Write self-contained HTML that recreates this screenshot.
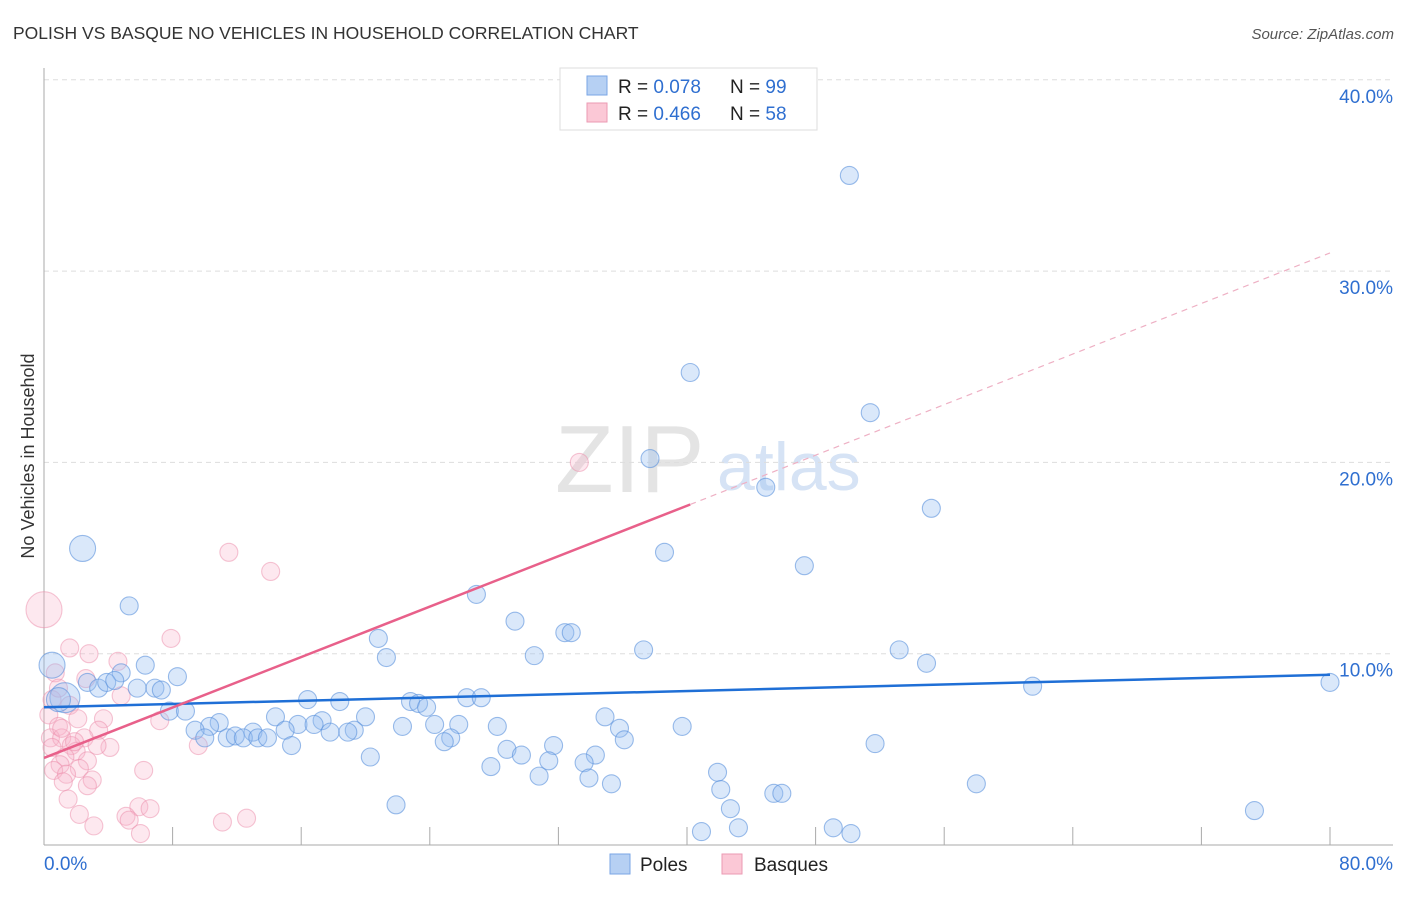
<!DOCTYPE html>
<html><head><meta charset="utf-8"><style>
body{margin:0;background:#fff;width:1406px;height:892px;overflow:hidden;font-family:"Liberation Sans",sans-serif}
svg text{font-family:"Liberation Sans",sans-serif}
</style></head><body>
<svg id="chart" width="1406" height="892">
<text x="13" y="39" font-size="17.5" fill="#333">POLISH VS BASQUE NO VEHICLES IN HOUSEHOLD CORRELATION CHART</text>
<text x="1394" y="39" font-size="15" fill="#555" font-style="italic" text-anchor="end">Source: ZipAtlas.com</text>
<text transform="translate(34,456) rotate(-90)" font-size="18" fill="#333" text-anchor="middle">No Vehicles in Household</text>
<text x="555" y="492" font-size="96" fill="#e4e4e4" font-family="Liberation Serif">ZIP</text>
<text x="717" y="490" font-size="68" fill="#d6e3f5">atlas</text>
<g id="grid"></g><g id="axes"></g><g id="pts"></g><g id="lines"></g>
<g>
<rect x="560" y="68" width="257" height="62" fill="#fff" stroke="#ddd"/>
<rect x="587" y="76" width="20" height="19" fill="#b6d0f3" stroke="#7aa6e6"/>
<rect x="587" y="103" width="20" height="19" fill="#fbc8d6" stroke="#eb9ab3"/>
<text x="618" y="93" font-size="19" fill="#222">R = <tspan fill="#2f6fd0">0.078</tspan></text>
<text x="730" y="93" font-size="19" fill="#222">N = <tspan fill="#2f6fd0">99</tspan></text>
<text x="618" y="120" font-size="19" fill="#222">R = <tspan fill="#2f6fd0">0.466</tspan></text>
<text x="730" y="120" font-size="19" fill="#222">N = <tspan fill="#2f6fd0">58</tspan></text>
</g>
<rect x="610" y="854" width="20" height="20" fill="#b6d0f3" stroke="#7aa6e6"/>
<text x="640" y="871" font-size="19" fill="#222">Poles</text>
<rect x="722" y="854" width="20" height="20" fill="#fbc8d6" stroke="#eb9ab3"/>
<text x="754" y="871" font-size="19" fill="#222">Basques</text>
</svg>
<script>
const yTicks=[10,20,30,40];
const yTickLabels=["10.0%","20.0%","30.0%","40.0%"];
const xTickLabels=["0.0%","80.0%"];
const polesX=[50.1,40.2,51.4,37.7,44.9,55.2,2.4,38.6,47.3,26.9,5.3,29.3,32.4,32.8,20.8,30.5,21.3,37.3,53.2,54.9,0.5,6.3,4.8,8.3,61.5,80,2.7,3.4,3.9,4.4,5.8,6.9,7.3,1.3,0.9,16.4,18.4,22.8,23.3,23.8,26.3,27.2,7.8,8.8,34.9,14.4,20.0,10.9,10.3,15.8,17.3,16.8,22.3,24.3,25.8,28.2,39.7,9.4,13.0,15.0,17.8,19.3,35.8,11.4,11.9,12.4,10.0,13.3,13.9,18.9,15.4,25.3,24.9,36.1,51.7,31.7,28.8,29.7,20.3,31.4,34.3,33.6,27.8,30.8,41.9,33.9,35.3,58.0,42.1,45.4,45.9,21.9,42.7,75.3,43.2,49.1,40.9,50.2];
const polesY=[35.0,24.7,22.6,20.2,18.7,17.6,15.5,15.3,14.6,13.1,12.5,11.7,11.1,11.1,10.8,9.9,9.8,10.2,10.2,9.5,9.4,9.4,9.0,8.8,8.3,8.5,8.5,8.2,8.5,8.6,8.2,8.2,8.1,7.7,7.6,7.6,7.5,7.5,7.4,7.2,7.7,7.7,7.0,7.0,6.7,6.7,6.7,6.4,6.2,6.3,6.5,6.3,6.2,6.3,6.3,6.2,6.2,6.0,5.9,6.0,5.9,6.0,6.1,5.6,5.7,5.6,5.6,5.6,5.6,5.9,5.2,5.6,5.4,5.5,5.3,5.2,5.0,4.7,4.6,4.4,4.7,4.3,4.1,3.6,3.8,3.5,3.2,3.2,2.9,2.7,2.7,2.1,1.9,1.8,0.9,0.9,0.7,0.6];
const polesR=[9,9,9,9,9,9,13,9,9,9,9,9,9,9,9,9,9,9,9,9,13,9,9,9,9,9,9,9,9,9,9,9,9,15,12,9,9,9,9,9,9,9,9,9,9,9,9,9,9,9,9,9,9,9,9,9,9,9,9,9,9,9,9,9,9,9,9,9,9,9,9,9,9,9,9,9,9,9,9,9,9,9,9,9,9,9,9,9,9,9,9,9,9,9,9,9,9,9];
const basquesX=[0,14.1,11.5,33.3,7.9,1.6,2.8,4.6,0.7,2.6,4.8,0.5,1.6,0.3,2.1,3.7,7.2,0.9,3.4,0.4,1.1,2.5,1.7,4.1,3.3,9.6,2.0,1.3,2.7,1.0,0.6,2.2,1.4,6.2,3.0,1.2,2.7,1.5,2.2,5.9,6.6,5.1,5.3,3.1,11.1,12.6,6.0,0.9,1.1,1.9,0.5];
const basquesY=[12.3,14.3,15.3,20.0,10.8,10.3,10.0,9.6,9.0,8.7,7.8,7.6,7.3,6.8,6.6,6.6,6.5,6.2,6.0,5.6,5.6,5.6,5.2,5.1,5.2,5.2,4.9,4.6,4.4,4.2,3.9,4.0,3.7,3.9,3.4,3.3,3.1,2.4,1.6,2.0,1.9,1.5,1.3,1.0,1.2,1.4,0.6,8.2,6.1,5.4,5.1];
const polesTrend=[7.2,8.9];
const basquesTrend=[4.55,17.8,30.95];
const basquesTrendX=[0,40.2,80];

const NS="http://www.w3.org/2000/svg";
const X=v=>44+v/80*1286, Y=v=>845-v*19.13;
function mk(tag,attrs,parent){const e=document.createElementNS(NS,tag);for(const k in attrs)e.setAttribute(k,attrs[k]);document.getElementById(parent).appendChild(e);return e;}
yTicks.forEach((t,i)=>{
  const g=mk('line',{x1:44,x2:1393,y1:Y(t),y2:Y(t),stroke:'#ddd','stroke-dasharray':'5,4'},'grid');
  
  
  const l=mk('text',{x:1393,y:Y(t)+23,'text-anchor':'end','font-size':19,fill:'#2f6fd0'},'grid');
  l.textContent=yTickLabels[i];
  
  
});
let ax=mk('line',{x1:44,x2:44,y1:68,y2:845,stroke:'#aaa'},'axes');


ax=mk('line',{x1:44,x2:1393,y1:845,y2:845,stroke:'#aaa'},'axes');


for(let k=1;k<=10;k++){
  const t=mk('line',{x1:X(k*8),x2:X(k*8),y1:827,y2:845,stroke:'#aaa'},'axes');
  
  
}
[[0,'start',44],[80,'end',1393]].forEach((d,i)=>{
  const t=mk('text',{x:d[2],y:870,'text-anchor':d[1],'font-size':19,fill:'#2f6fd0'},'axes');
  t.textContent=xTickLabels[i];
  
  
});
basquesX.forEach((v,i)=>{
  const c=mk('circle',{cx:X(v),cy:Y(basquesY[i]),r:i==0?18:9,fill:'rgba(247,180,202,0.3)',stroke:'rgba(235,140,170,0.5)','stroke-width':1.1},'pts');
  
  
});
polesX.forEach((v,i)=>{
  const c=mk('circle',{cx:X(v),cy:Y(polesY[i]),r:polesR[i]||9,fill:'rgba(150,190,240,0.35)',stroke:'rgba(90,145,220,0.6)','stroke-width':1.1},'pts');
  
  
});
let tl=mk('line',{x1:X(0),y1:Y(polesTrend[0]),x2:X(80),y2:Y(polesTrend[1]),stroke:'#1f6fd6','stroke-width':2.5},'lines');


tl=mk('line',{x1:X(basquesTrendX[0]),y1:Y(basquesTrend[0]),x2:X(basquesTrendX[1]),y2:Y(basquesTrend[1]),stroke:'#e8608a','stroke-width':2.5},'lines');


tl=mk('line',{x1:X(basquesTrendX[1]),y1:Y(basquesTrend[1]),x2:X(basquesTrendX[2]),y2:Y(basquesTrend[2]),stroke:'#eeb0c4','stroke-width':1.2,'stroke-dasharray':'6,5'},'lines');


</script>
</body></html>
